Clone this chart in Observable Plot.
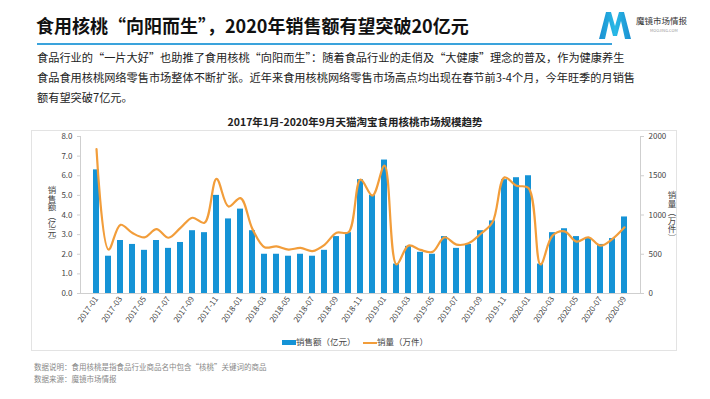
<!DOCTYPE html>
<html><head><meta charset="utf-8">
<script src="https://cdn.jsdelivr.net/npm/d3@7"></script>
<script src="https://cdn.jsdelivr.net/npm/@observablehq/plot@0.6"></script>
<style>
body{margin:0;background:#fff;font-family:"Noto Sans CJK SC","Noto Sans",sans-serif;}
#page{position:relative;width:710px;height:399px;overflow:hidden;background:#fff;}
.abs{position:absolute;white-space:nowrap;}
#title{left:36px;top:12px;font-size:18px;font-weight:bold;color:#111;}
#rule{left:37px;top:43px;width:575px;height:2px;background:#3aa3dc;}
.para{left:37px;font-size:11.2px;color:#222;}
#box{left:31px;top:130px;width:646px;height:221px;border:1px solid #e3e3e3;box-sizing:border-box;}
#ctitle{left:0;width:710px;text-align:center;top:114px;font-size:10.5px;font-weight:bold;color:#222;}
.vlab{writing-mode:vertical-rl;font-size:8.5px;color:#444;}
.foot{left:34px;font-size:7.5px;color:#888;}
#legend{top:335px;left:0;width:710px;text-align:center;font-size:8.5px;color:#444;}
#legend span.sw{display:inline-block;vertical-align:middle;}
</style></head>
<body><div id="page">
<div id="title" class="abs">食用核桃“向阳而生”，2020年销售额有望突破20亿元</div>
<div id="rule" class="abs"></div>
<svg class="abs" style="left:598px;top:10px" width="34" height="30" viewBox="0 0 34 30">
<defs><linearGradient id="lg" x1="0" y1="0" x2="1" y2="0"><stop offset="0" stop-color="#1b8fd1"/><stop offset="0.5" stop-color="#28b9e6"/><stop offset="1" stop-color="#1b8fd1"/></linearGradient></defs>
<path d="M1 29 L8 2 L13 2 L17 16 L21 2 L26 2 L33 29 L27 29 L23 11 L19 26 L15 26 L11 11 L7 29 Z" fill="url(#lg)"/>
</svg>
<div class="abs" style="left:636px;top:14px;font-size:8.5px;color:#333;">魔镜市场情报</div>
<div class="abs" style="left:650px;top:27px;font-size:4px;color:#999;">MOOJING.COM</div>
<div class="abs para" style="top:49px">食品行业的“一片大好”也助推了食用核桃“向阳而生”：随着食品行业的走俏及“大健康”理念的普及，作为健康养生</div>
<div class="abs para" style="top:69px">食品食用核桃网络零售市场整体不断扩张。近年来食用核桃网络零售市场高点均出现在春节前3-4个月，今年旺季的月销售</div>
<div class="abs para" style="top:89px">额有望突破7亿元。</div>
<div id="ctitle" class="abs">2017年1月-2020年9月天猫淘宝食用核桃市场规模趋势</div>
<div id="box" class="abs"></div>
<div id="chart" class="abs" style="left:0;top:130px;"></div>
<div class="abs vlab" style="left:46px;top:186px;">销售额（亿元）</div>
<div class="abs vlab" style="left:666px;top:191px;">销量（万件）</div>
<div id="legend" class="abs"><span class="sw" style="width:14px;height:5px;background:#1593d6;"></span>销售额（亿元）&nbsp;&nbsp;&nbsp;&nbsp;<span class="sw" style="width:14px;height:2px;background:#f29d3a;"></span>销量（万件）</div>
<div class="abs foot" style="top:361px">数据说明：食用核桃是指食品行业商品名中包含“核桃”关键词的商品</div>
<div class="abs foot" style="top:373px">数据来源：魔镜市场情报</div>
</div>
<script>
const months = ["2017-01","2017-02","2017-03","2017-04","2017-05","2017-06","2017-07","2017-08","2017-09","2017-10","2017-11","2017-12",
"2018-01","2018-02","2018-03","2018-04","2018-05","2018-06","2018-07","2018-08","2018-09","2018-10","2018-11","2018-12",
"2019-01","2019-02","2019-03","2019-04","2019-05","2019-06","2019-07","2019-08","2019-09","2019-10","2019-11","2019-12",
"2020-01","2020-02","2020-03","2020-04","2020-05","2020-06","2020-07","2020-08","2020-09"];
const sales = [6.3,1.9,2.7,2.5,2.2,2.7,2.3,2.6,3.2,3.1,5.0,3.8,
4.3,3.2,2.0,2.0,1.9,2.0,1.9,2.2,2.9,3.1,5.8,5.0,
6.8,1.5,2.4,2.1,2.0,2.9,2.3,2.5,3.2,3.7,5.8,5.9,
6.0,1.5,3.1,3.3,2.9,2.8,2.5,2.8,3.9];
const volume = [1840,560,875,770,715,820,710,835,965,900,1460,1108,
1215,820,590,600,560,580,540,620,775,780,1450,1248,
1628,370,610,555,530,716,623,640,758,907,1479,1373,
1343,370,737,792,661,716,610,695,843];
const leftTicks = [0,1,2,3,4,5,6,7,8];
const rightTicks = [0,500,1000,1500,2000];
const xTicks = months.filter((m,i)=>i%2===0);
const ratio = 250;

const data = months.map((m,i)=>({month:m, sales:sales[i], volume:volume[i]}));
const chart = Plot.plot({
  width:710, height:222,
  marginTop:6, marginBottom:59, marginLeft:80, marginRight:70,
  style:{fontFamily:"'Noto Sans CJK SC','Noto Sans',sans-serif", fontSize:"8px", color:"#444", background:"transparent"},
  x:{type:"band", domain:months, padding:0.5, label:null},
  y:{domain:[0,8], label:null},
  marks:[
    Plot.frame({anchor:"left", stroke:"#cfcfcf"}),
    Plot.frame({anchor:"right", stroke:"#cfcfcf"}),
    Plot.frame({anchor:"bottom", stroke:"#cfcfcf"}),
    Plot.barY(data,{x:"month", y:"sales", fill:"#1593d6"}),
    Plot.line(data,{x:"month", y:d=>d.volume/ratio, stroke:"#f29d3a", strokeWidth:2.2, curve:"catmull-rom"}),
    Plot.axisY({anchor:"left", ticks:leftTicks, tickFormat:d=>d.toFixed(1), tickSize:3, tickPadding:5, stroke:"#cfcfcf", label:null}),
    Plot.axisY({anchor:"right", ticks:rightTicks.map(v=>v/ratio), tickFormat:d=>String(Math.round(d*ratio)), tickSize:3, tickPadding:5, stroke:"#cfcfcf", label:null}),
    Plot.axisX({ticks:xTicks, tickSize:0, tickPadding:4, tickRotate:-55, label:null})
  ]
});
document.getElementById("chart").appendChild(chart);
</script>
</body></html>
